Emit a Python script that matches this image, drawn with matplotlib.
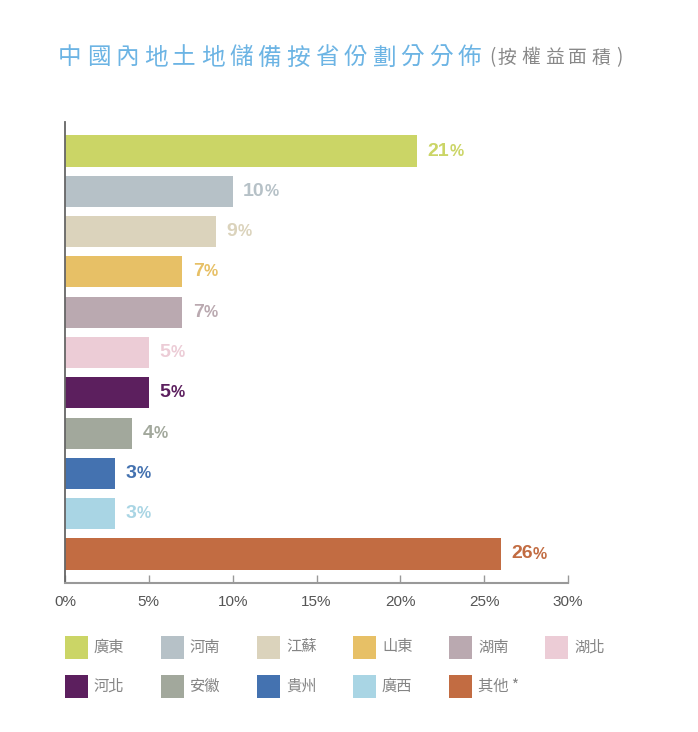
import matplotlib
matplotlib.use("Agg")
import matplotlib.pyplot as plt
from matplotlib.patches import Rectangle

plt.rcParams['font.family'] = ['Liberation Sans', 'DejaVu Sans']
CJK = ['Noto Sans CJK TC', 'DejaVu Sans']

# data
regions = ['廣東', '河南', '江蘇', '山東', '湖南', '湖北', '河北', '安徽', '貴州', '廣西', '其他']
legend_labels = ['廣東', '河南', '江蘇', '山東', '湖南', '湖北', '河北', '安徽', '貴州', '廣西', '其他 *']
shares = [21, 10, 9, 7, 7, 5, 5, 4, 3, 3, 26]
bar_colors = ['#cbd566', '#b6c1c7', '#dbd3bc', '#e7c066', '#baa9b0', '#ecccd6',
              '#5c1f5e', '#a2a89c', '#4472b0', '#a9d5e4', '#c26c42']
xticks = [0, 5, 10, 15, 20, 25, 30]
title_main = '中國內地土地儲備按省份劃分分佈'
title_sub = '按權益面積'

W, H = 698, 732
fig = plt.figure(figsize=(W / 100, H / 100), dpi=100)
ax = fig.add_axes([65 / W, 1 - 583 / H, 503 / W, 461 / H])

pos = list(range(len(regions)))
ax.barh(pos, shares, height=0.77, color=bar_colors)
ax.set_ylim(10.72, -0.72)
ax.set_xlim(0, 30)
ax.set_yticks([])
ax.set_xticks(xticks)
ax.set_xticklabels([f'{v}%' for v in xticks])
ax.tick_params(axis='x', direction='in', length=6, width=1, color='#999999',
               labelsize=11, labelcolor='#555555', pad=9)
for s in ['top', 'right']:
    ax.spines[s].set_visible(False)
ax.spines['left'].set_color('#666666')
ax.spines['left'].set_linewidth(1.3)
ax.spines['bottom'].set_color('#999999')
ax.spines['bottom'].set_linewidth(1.5)

# value labels, number big and % a bit smaller
for i, (v, c) in enumerate(zip(shares, bar_colors)):
    t = ax.annotate(str(v), xy=(v, i), xytext=(7.5, 0), textcoords='offset points',
                    va='center', ha='left', fontsize=14, fontweight='bold', color=c)
    ax.annotate('%', xy=(1, 0), xycoords=t, xytext=(0.1, 0.7), textcoords='offset points',
                va='bottom', ha='left', fontsize=11.5, fontweight='bold', color=c)

# title, spaced out char by char
ty = 1 - 58 / H
for k, ch in enumerate(title_main):
    fig.text((70 + k * 28.5) / W, ty, ch, ha='center', va='center', fontsize=17,
             color='#6cb4e4', family=CJK)
fig.text(492 / W, ty, '(', ha='center', va='center', fontsize=13.5, color='#888888', family=CJK)
for k, ch in enumerate(title_sub):
    fig.text((507 + k * 23.5) / W, ty, ch, ha='center', va='center', fontsize=13.5,
             color='#888888', family=CJK)
fig.text(619 / W, ty, ')', ha='center', va='center', fontsize=13.5, color='#888888', family=CJK)

# legend
for i, (lab, c) in enumerate(zip(legend_labels, bar_colors)):
    row, col = divmod(i, 6)
    x0 = 65 + col * 96
    yc = 647 + row * 39
    fig.add_artist(Rectangle((x0 / W, 1 - (yc + 11.5) / H), 23 / W, 23 / H,
                             transform=fig.transFigure, color=c, lw=0))
    fig.text((x0 + 29) / W, 1 - yc / H, lab, ha='left', va='center', fontsize=11,
             color='#858585', family=CJK)

fig.savefig('out.png', dpi=100)
